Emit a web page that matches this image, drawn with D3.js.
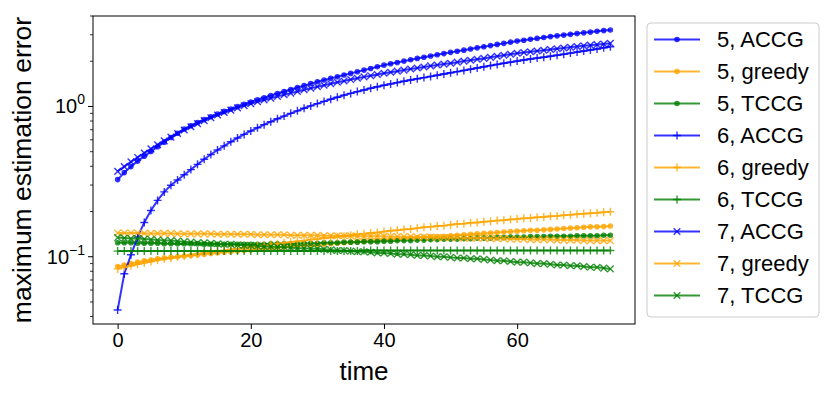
<!DOCTYPE html>
<html>
<head>
<meta charset="utf-8">
<script src="https://cdnjs.cloudflare.com/ajax/libs/d3/7.8.5/d3.min.js"></script>
<style>
body{margin:0;background:#fff}
text{font-family:"Liberation Sans",Arial,Helvetica,sans-serif;fill:#000}
</style>
</head>
<body>
<svg id="graph" width="828" height="396"></svg>
<script>
// time steps
var time = [0,1,2,3,4,5,6,7,8,9,10,11,12,13,14,15,16,17,18,19,20,21,22,23,24,25,26,27,28,29,30,31,32,33,34,35,36,37,38,39,40,41,42,43,44,45,46,47,48,49,50,51,52,53,54,55,56,57,58,59,60,61,62,63,64,65,66,67,68,69,70,71,72,73,74]

var accg5 = [0.326,0.363,0.398,0.433,0.467,0.501,0.540,0.579,0.621,0.664,0.708,0.745,0.782,0.818,0.855,0.891,0.927,0.962,0.998,1.035,1.072,1.107,1.143,1.180,1.219,1.259,1.297,1.337,1.377,1.419,1.462,1.500,1.538,1.578,1.618,1.660,1.702,1.746,1.791,1.837,1.884,1.923,1.963,2.004,2.046,2.089,2.128,2.168,2.208,2.249,2.291,2.333,2.371,2.415,2.455,2.500,2.541,2.588,2.630,2.679,2.723,2.761,2.799,2.838,2.877,2.917,2.951,2.985,3.020,3.055,3.090,3.126,3.162,3.199,3.228]
var greedy5 = [0.086,0.088,0.090,0.092,0.094,0.095,0.097,0.098,0.099,0.100,0.101,0.102,0.103,0.104,0.105,0.106,0.107,0.108,0.109,0.110,0.111,0.112,0.113,0.114,0.115,0.116,0.117,0.118,0.119,0.119,0.120,0.121,0.122,0.123,0.124,0.125,0.126,0.127,0.127,0.128,0.129,0.130,0.131,0.132,0.133,0.134,0.135,0.136,0.136,0.137,0.138,0.139,0.140,0.141,0.142,0.143,0.144,0.145,0.146,0.147,0.148,0.149,0.150,0.150,0.151,0.152,0.153,0.154,0.155,0.156,0.157,0.158,0.158,0.159,0.160]
var tccg5 = [0.124,0.124,0.124,0.123,0.123,0.123,0.123,0.122,0.122,0.122,0.122,0.122,0.122,0.121,0.121,0.121,0.121,0.121,0.121,0.121,0.121,0.121,0.121,0.122,0.122,0.122,0.122,0.122,0.123,0.123,0.123,0.124,0.124,0.124,0.125,0.125,0.125,0.126,0.126,0.126,0.127,0.127,0.128,0.128,0.128,0.129,0.129,0.130,0.130,0.131,0.131,0.131,0.132,0.132,0.133,0.133,0.133,0.134,0.134,0.135,0.135,0.135,0.136,0.136,0.136,0.137,0.137,0.137,0.137,0.138,0.138,0.138,0.138,0.139,0.139]
var accg6 = [0.0442,0.0771,0.103,0.135,0.169,0.203,0.237,0.270,0.299,0.324,0.351,0.380,0.412,0.445,0.479,0.513,0.547,0.582,0.617,0.652,0.687,0.721,0.757,0.792,0.828,0.863,0.900,0.935,0.973,1.009,1.045,1.081,1.117,1.153,1.189,1.222,1.256,1.288,1.321,1.352,1.384,1.413,1.442,1.472,1.500,1.528,1.556,1.585,1.614,1.644,1.675,1.706,1.738,1.770,1.803,1.837,1.871,1.905,1.941,1.972,2.004,2.037,2.070,2.099,2.128,2.158,2.193,2.228,2.265,2.301,2.339,2.377,2.415,2.455,2.495]
var greedy6 = [0.083,0.085,0.087,0.089,0.091,0.093,0.095,0.097,0.098,0.100,0.101,0.103,0.104,0.106,0.107,0.109,0.110,0.112,0.113,0.115,0.116,0.118,0.119,0.121,0.122,0.124,0.125,0.127,0.128,0.130,0.131,0.133,0.134,0.136,0.137,0.139,0.141,0.142,0.144,0.145,0.147,0.149,0.150,0.152,0.153,0.155,0.157,0.158,0.160,0.161,0.163,0.165,0.166,0.168,0.169,0.171,0.172,0.174,0.175,0.177,0.178,0.180,0.181,0.183,0.184,0.186,0.187,0.189,0.190,0.192,0.193,0.195,0.196,0.198,0.199]
var tccg6 = [0.109,0.109,0.109,0.109,0.109,0.109,0.109,0.109,0.109,0.109,0.109,0.109,0.109,0.109,0.109,0.109,0.109,0.109,0.109,0.109,0.109,0.109,0.109,0.109,0.109,0.109,0.109,0.109,0.109,0.109,0.109,0.109,0.109,0.109,0.109,0.109,0.109,0.110,0.110,0.110,0.110,0.110,0.110,0.110,0.110,0.110,0.110,0.110,0.110,0.110,0.110,0.110,0.110,0.110,0.110,0.110,0.110,0.110,0.110,0.110,0.110,0.110,0.110,0.110,0.110,0.110,0.110,0.110,0.110,0.110,0.110,0.110,0.110,0.110,0.110]
var accg7 = [0.370,0.398,0.428,0.458,0.490,0.522,0.556,0.590,0.625,0.661,0.697,0.733,0.769,0.805,0.841,0.877,0.912,0.946,0.979,1.012,1.042,1.074,1.104,1.135,1.167,1.197,1.227,1.259,1.291,1.321,1.352,1.384,1.416,1.449,1.479,1.510,1.542,1.574,1.603,1.633,1.663,1.690,1.718,1.746,1.774,1.803,1.832,1.862,1.888,1.914,1.941,1.972,2.004,2.032,2.061,2.089,2.123,2.158,2.193,2.228,2.259,2.286,2.312,2.339,2.366,2.393,2.421,2.449,2.477,2.506,2.535,2.559,2.582,2.606,2.630]
var greedy7 = [0.144,0.144,0.144,0.144,0.143,0.143,0.143,0.143,0.143,0.142,0.142,0.142,0.142,0.142,0.142,0.141,0.141,0.141,0.141,0.141,0.141,0.140,0.140,0.140,0.140,0.140,0.139,0.139,0.139,0.139,0.139,0.138,0.138,0.138,0.138,0.138,0.137,0.137,0.137,0.137,0.137,0.136,0.136,0.136,0.136,0.135,0.135,0.135,0.134,0.134,0.134,0.134,0.133,0.133,0.133,0.133,0.132,0.132,0.132,0.131,0.131,0.131,0.130,0.130,0.130,0.130,0.129,0.129,0.129,0.129,0.128,0.128,0.128,0.128,0.128]
var tccg7 = [0.134,0.133,0.132,0.132,0.131,0.130,0.129,0.128,0.128,0.127,0.126,0.125,0.124,0.124,0.123,0.122,0.121,0.121,0.120,0.119,0.119,0.118,0.117,0.117,0.116,0.116,0.115,0.114,0.114,0.113,0.113,0.112,0.111,0.110,0.110,0.109,0.108,0.108,0.107,0.106,0.106,0.105,0.104,0.104,0.103,0.102,0.102,0.101,0.100,0.100,0.099,0.098,0.098,0.097,0.097,0.096,0.095,0.094,0.094,0.093,0.092,0.092,0.091,0.090,0.090,0.089,0.088,0.088,0.087,0.087,0.086,0.085,0.085,0.084,0.083]

var labels = ["5, ACCG","5, greedy","5, TCCG","6, ACCG","6, greedy","6, TCCG","7, ACCG","7, greedy","7, TCCG"]
var xTicks = [0,20,40,60]
var yTicks = [0.1,1]
var yTickLabels = [["10","\u22121"],["10","0"]]

var series = [accg5,greedy5,tccg5,accg6,greedy6,tccg6,accg7,greedy7,tccg7]
var colors = ["#0000ff","#ffa500","#008000"]
var markers = ["dot","dot","dot","plus","plus","plus","cross","cross","cross"]

var margin = {left:93, top:16, right:193, bottom:72}
var svg = d3.select("#graph")
var width = +svg.attr("width") - margin.left - margin.right
var height = +svg.attr("height") - margin.top - margin.bottom

// matplotlib style 5% margins (log space for y)
var xPad = (d3.max(time) - d3.min(time)) * 0.05
var x = d3.scaleLinear().domain([d3.min(time)-xPad, d3.max(time)+xPad]).range([0,width])
var allVals = [].concat.apply([], series)
var lmin = Math.log10(d3.min(allVals)), lmax = Math.log10(d3.max(allVals))
var lpad = (lmax-lmin)*0.05
var y = d3.scaleLog().domain([Math.pow(10,lmin-lpad), Math.pow(10,lmax+lpad)]).range([height,0])

var g = svg.append("g").attr("transform","translate("+margin.left+","+margin.top+")")

function drawMarker(sel, kind, color){
    if (kind=="dot"){
        sel.append("circle").attr("r",2.1).attr("fill",color).attr("stroke",color).attr("stroke-width",1.4)
    } else if (kind=="plus"){
        sel.append("path").attr("d","M-4,0H4M0,-4V4").attr("stroke",color).attr("stroke-width",1.4).attr("fill","none")
    } else {
        sel.append("path").attr("d","M-3.3,-3.3L3.3,3.3M-3.3,3.3L3.3,-3.3").attr("stroke",color).attr("stroke-width",1.4).attr("fill","none")
    }
}

var line = d3.line().x((d,i)=>x(time[i])).y(d=>y(d))

var plot = g.append("g")
series.forEach(function(s,k){
    var col = colors[k%3]
    var sg = plot.append("g")
    sg.append("path").datum(s)
        .attr("d",line)
        .attr("fill","none")
        .attr("stroke",col)
        .attr("stroke-opacity",0.8)
        .attr("stroke-width",2)
    sg.selectAll("g.m").data(s).enter().append("g")
        .attr("class","m")
        .attr("opacity",0.8)
        .attr("transform",(d,i)=>"translate("+x(time[i])+","+y(d)+")")
        .each(function(){ drawMarker(d3.select(this), markers[k], col) })
})

// x axis
var xAxis = d3.axisBottom(x).tickValues(xTicks).tickSize(5).tickPadding(4)
var gx = g.append("g").attr("transform","translate(0,"+height+")").call(xAxis)
gx.select(".domain").remove()
gx.selectAll("line").attr("stroke","#000").attr("stroke-width",1)
gx.selectAll("text").attr("font-size",20).attr("font-family",null)

// y axis, major + minor
var minor = []
for (let e=-2; e<=1; e++){
    for (let m=2; m<=9; m++){
        var v = m*Math.pow(10,e)
        if (v>=y.domain()[0] && v<=y.domain()[1]) minor.push(v)
    }
}
g.append("g").selectAll("line").data(minor).enter().append("line")
    .attr("x1",-3).attr("x2",0)
    .attr("y1",d=>y(d)).attr("y2",d=>y(d))
    .attr("stroke","#000").attr("stroke-width",0.8)
var yt = g.append("g").selectAll("g").data(yTicks).enter().append("g")
    .attr("transform",d=>"translate(0,"+y(d)+")")
yt.append("line").attr("x1",-5).attr("x2",0).attr("stroke","#000").attr("stroke-width",1)
var ytx = yt.append("text")
    .attr("x",-8).attr("y",7)
    .attr("text-anchor","end")
    .attr("font-size",20)
ytx.append("tspan").text((d,i)=>yTickLabels[i][0])
ytx.append("tspan").attr("dy",-9).attr("font-size",14).text((d,i)=>yTickLabels[i][1])

// frame
g.append("rect").attr("width",width).attr("height",height)
    .attr("fill","none").attr("stroke","#000").attr("stroke-width",1)

// labels
g.append("text").attr("x",width/2).attr("y",height+56)
    .attr("text-anchor","middle").attr("font-size",26).text("time")
svg.append("text")
    .attr("transform","translate(31,"+(margin.top+height/2)+") rotate(-90)")
    .attr("text-anchor","middle").attr("font-size",26.5).text("maximum estimation error")

// legend
var lg = svg.append("g").attr("transform","translate(647,23)")
lg.append("rect").attr("width",172).attr("height",294).attr("rx",4)
    .attr("fill","#fff").attr("fill-opacity",0.8)
    .attr("stroke","#ccc").attr("stroke-width",1)
var items = lg.selectAll("g.item").data(labels).enter().append("g")
    .attr("class","item")
    .attr("transform",(d,i)=>"translate(0,"+(16.5+i*32)+")")
items.append("line").attr("x1",7).attr("x2",53)
    .attr("stroke",(d,i)=>colors[i%3]).attr("stroke-opacity",0.8).attr("stroke-width",2)
items.append("g").attr("transform","translate(30,0)").attr("opacity",0.8)
    .each(function(d,i){ drawMarker(d3.select(this), markers[i], colors[i%3]) })
items.append("text").attr("x",70).attr("y",7.5).attr("font-size",22).text(d=>d)
</script>
</body>
</html>
